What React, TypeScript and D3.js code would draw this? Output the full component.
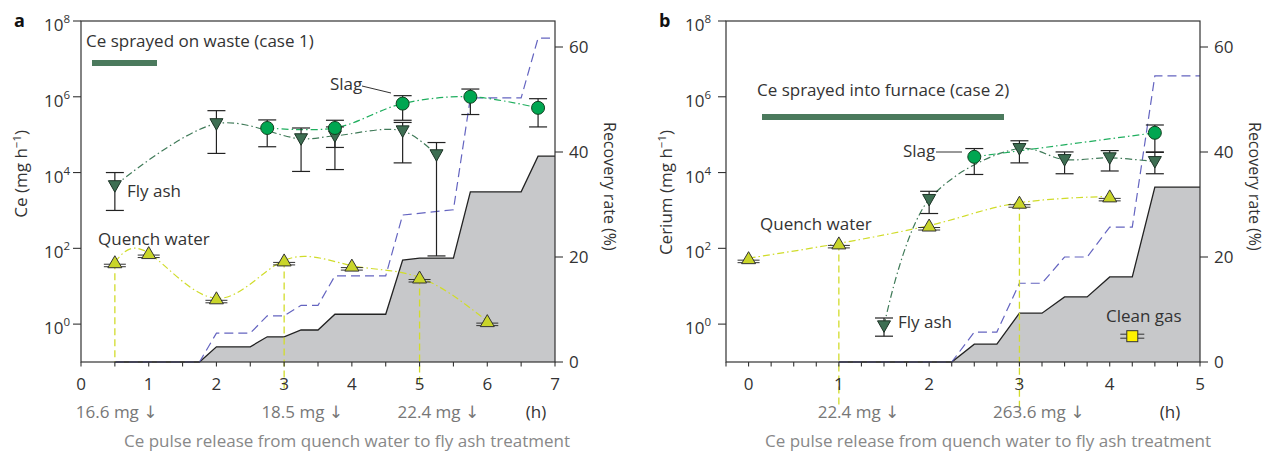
import React from 'react';
import * as d3 from 'd3';

const FONT = "'Open Sans', 'Noto Sans', 'DejaVu Sans', sans-serif";
const INK = '#333';

// ---- panel a : Ce sprayed on waste (case 1) ----
const aFlyX = [0.5, 2, 3.25, 3.75, 4.75, 5.25];
const aFlyY = [4.5e3, 1.95e5, 7.8e4, 9.3e4, 1.26e5, 2.95e4];
const aFlyLo = [1e3, 3.2e4, 1.07e4, 1.2e4, 1.8e4, 63];
const aFlyHi = [1e4, 4.3e5, 1.5e5, 1.6e5, 2.1e5, 6.2e4];

const aSlagX = [2.75, 3.75, 4.75, 5.75, 6.75];
const aSlagY = [1.5e5, 1.5e5, 6.6e5, 1e6, 5.1e5];
const aSlagLo = [4.8e4, 4.6e4, 2.4e5, 3.4e5, 1.6e5];
const aSlagHi = [2.45e5, 2.4e5, 1.07e6, 1.6e6, 8.9e5];

const aQuenchX = [0.5, 1, 2, 3, 4, 5, 6];
const aQuenchY = [43, 75, 4.8, 48, 35, 17, 1.2];

const aTotalX = [0.5, 1.75, 2, 2.5, 2.75, 3, 3.25, 3.5, 3.75, 4.5, 4.75, 5.5, 5.75, 6.5, 6.75, 7];
const aTotalY = [0, 0, 5.5, 5.5, 8.8, 8.8, 10.8, 10.8, 16.4, 16.4, 28, 29, 50.3, 50.3, 61.7, 61.7];
const aAshX = [0.5, 1.75, 2, 2.5, 2.75, 3, 3.25, 3.5, 3.75, 4.5, 4.75, 5, 5.5, 5.75, 6.5, 6.75, 7];
const aAshY = [0, 0, 2.9, 2.9, 4.8, 4.8, 6.1, 6.1, 9.1, 9.1, 19.4, 19.8, 19.8, 32.4, 32.4, 39.2, 39.2];

const aPulseX = [0.5, 3, 5];
const aPulseLabels = ['16.6 mg ↓', '18.5 mg ↓', '22.4 mg ↓'];
const aPulseLabelX = [1.13, 3.87, 5.88];

// ---- panel b : Ce sprayed into furnace (case 2) ----
const bFlyX = [1.5, 2, 3, 3.5, 4, 4.5];
const bFlyY = [0.9, 1950, 4.3e4, 2.2e4, 2.45e4, 1.95e4];
const bFlyLo = [0.48, 830, 1.8e4, 9.3e3, 1.1e4, 9.3e3];
const bFlyHi = [1.45, 3.2e3, 6.9e4, 3.5e4, 3.8e4, 3.4e4];

const bSlagX = [2.5, 4.5];
const bSlagY = [2.6e4, 1.12e5];
const bSlagLo = [8.9e3, 3.5e4];
const bSlagHi = [4.3e4, 1.8e5];

const bQuenchX = [0, 1, 2, 3, 4];
const bQuenchY = [55, 135, 400, 1600, 2350];

const bCleanX = [4.25];
const bCleanY = [0.48];

const bTotalX = [1, 2.25, 2.5, 2.75, 3, 3.25, 3.5, 3.75, 4, 4.25, 4.5, 5];
const bTotalY = [0, 0, 5.7, 5.7, 15, 15, 20, 20, 25.7, 25.7, 54.5, 54.5];
const bAshX = [1, 2.25, 2.5, 2.75, 3, 3.25, 3.5, 3.75, 4, 4.25, 4.5, 5];
const bAshY = [0, 0, 3.4, 3.4, 9.3, 9.3, 12.4, 12.4, 16.2, 16.2, 33.3, 33.3];

const bPulseX = [1, 3];
const bPulseLabels = ['22.4 mg ↓', '263.6 mg ↓'];
const bPulseLabelX = [1.67, 3.72];

const yTickExp = [0, 2, 4, 6, 8];
const rTicks = [0, 20, 40, 60];

const zip = (xs, ys) => xs.map((v, i) => [v, ys[i]]);

const panels = [
  {
    letter: 'a', left: 81, right: 555, xDomain: [0, 7], xTicks: d3.range(0, 8), minor: 0.5,
    yTitle: 'Ce', labelGap: 11,
    fly: { x: aFlyX, y: aFlyY, lo: aFlyLo, hi: aFlyHi },
    slag: { x: aSlagX, y: aSlagY, lo: aSlagLo, hi: aSlagHi },
    quench: { x: aQuenchX, y: aQuenchY }, quenchCurve: d3.curveNatural,
    total: zip(aTotalX, aTotalY), ash: zip(aAshX, aAshY),
    pulseX: aPulseX, pulseDrop: [362, 392, 386],
    pulseLabels: aPulseLabels, pulseLabelX: aPulseLabelX, hX: 536,
    bar: { text: 'Ce sprayed on waste (case 1)', tx: 86, ty: 47, x0: 92, x1: 157, y: 60 },
    notes: [
      { t: 'Fly ash', x: 127, y: 197 },
      { t: 'Quench water', x: 98, y: 245 },
      { t: 'Slag', x: 330, y: 90 },
    ],
    leader: [362, 86, 391, 93],
    clean: null,
    caption: 347,
  },
  {
    letter: 'b', left: 726, right: 1200, xDomain: [-0.25, 5], xTicks: d3.range(0, 6), minor: 0.25,
    yTitle: 'Cerium', labelGap: 15,
    fly: { x: bFlyX, y: bFlyY, lo: bFlyLo, hi: bFlyHi },
    slag: { x: bSlagX, y: bSlagY, lo: bSlagLo, hi: bSlagHi },
    quench: { x: bQuenchX, y: bQuenchY }, quenchCurve: d3.curveMonotoneX,
    total: zip(bTotalX, bTotalY), ash: zip(bAshX, bAshY),
    pulseX: bPulseX, pulseDrop: [408, 410],
    pulseLabels: bPulseLabels, pulseLabelX: bPulseLabelX, hX: 1170,
    bar: { text: 'Ce sprayed into furnace (case 2)', tx: 757, ty: 96, x0: 762, x1: 1004, y: 114 },
    notes: [
      { t: 'Fly ash', x: 898, y: 328 },
      { t: 'Quench water', x: 760, y: 230 },
      { t: 'Slag', x: 903, y: 157 },
      { t: 'Clean gas', x: 1106, y: 322 },
    ],
    leader: [936, 152, 962, 152],
    clean: { x: bCleanX, y: bCleanY },
    caption: 988,
  },
];

const TOP = 21;
const BOTTOM = 362;

function ErrorBars({ s, x, y, color = '#222' }) {
  return (
    <g stroke={color} strokeWidth={1.2}>
      {s.x.map((v, i) => (
        <g key={i}>
          <line x1={x(v)} x2={x(v)} y1={y(s.lo[i])} y2={y(s.hi[i])} />
          <line x1={x(v) - 9} x2={x(v) + 9} y1={y(s.lo[i])} y2={y(s.lo[i])} />
          <line x1={x(v) - 9} x2={x(v) + 9} y1={y(s.hi[i])} y2={y(s.hi[i])} />
        </g>
      ))}
    </g>
  );
}

function Panel({ p }) {
  const x = d3.scaleLinear().domain(p.xDomain).range([p.left, p.right]);
  const y = d3.scaleLog().domain([0.1, 1e8]).range([BOTTOM, TOP]);
  const yR = d3.scaleLinear().domain([0, 65]).range([BOTTOM, 20.75]);

  const logLine = (curve) =>
    d3.line().x((d) => x(d[0])).y((d) => y(d[1])).curve(curve);
  const rLine = d3.line().x((d) => x(d[0])).y((d) => yR(d[1]));
  const ashArea = d3.area().x((d) => x(d[0])).y0(yR(0)).y1((d) => yR(d[1]));

  const minor = d3.range(p.xDomain[0], p.xDomain[1] + 1e-9, p.minor);
  const dashDot = '7,3,1.5,3';

  return (
    <g fontFamily={FONT}>
      {/* recovery: grey area and blue dashed step */}
      <path d={ashArea(p.ash)} fill="#c7c8ca" />
      <path d={rLine(p.ash)} fill="none" stroke="#222" strokeWidth={1.3} />
      <path d={rLine(p.total)} fill="none" stroke="#6464c0" strokeWidth={1.2} strokeDasharray="9,5" />

      {/* pulse markers */}
      {p.pulseX.map((v, i) => (
        <line key={i} x1={x(v)} x2={x(v)}
          y1={y(p.quench.y[p.quench.x.indexOf(v)])} y2={p.pulseDrop[i]}
          stroke="#d2dc2c" strokeWidth={1.3} strokeDasharray="7,4" />
      ))}

      {/* frame */}
      <rect x={p.left} y={TOP} width={p.right - p.left} height={BOTTOM - TOP}
        fill="none" stroke={INK} strokeWidth={1.2} />

      {/* fitted curves */}
      <path d={logLine(p.quenchCurve)(zip(p.quench.x, p.quench.y))} fill="none"
        stroke="#d0dc2a" strokeWidth={1.2} strokeDasharray={dashDot} />
      <path d={logLine(d3.curveCatmullRom)(zip(p.fly.x, p.fly.y))} fill="none"
        stroke="#3f7a58" strokeWidth={1.2} strokeDasharray={dashDot} />
      <path d={logLine(d3.curveCatmullRom)(zip(p.slag.x, p.slag.y))} fill="none"
        stroke="#1fae5e" strokeWidth={1.2} strokeDasharray={dashDot} />

      <ErrorBars s={p.fly} x={x} y={y} />
      <ErrorBars s={p.slag} x={x} y={y} />

      {/* quench water triangles */}
      {p.quench.x.map((v, i) => {
        const cx = x(v), cy = y(p.quench.y[i]);
        return (
          <g key={i}>
            <line x1={cx - 11} x2={cx + 11} y1={cy + 2} y2={cy + 2} stroke="#333" strokeWidth={1} />
            <line x1={cx - 11} x2={cx + 11} y1={cy + 4.5} y2={cy + 4.5} stroke="#333" strokeWidth={1} />
            <path d={`M${cx - 7},${cy + 5.5}L${cx + 7},${cy + 5.5}L${cx},${cy - 6.5}Z`}
              fill="#c9d52a" stroke="#333" strokeWidth={1} />
          </g>
        );
      })}
      {/* fly ash triangles */}
      {p.fly.x.map((v, i) => {
        const cx = x(v), cy = y(p.fly.y[i]);
        return (
          <path key={i} d={`M${cx - 6.5},${cy - 5}L${cx + 6.5},${cy - 5}L${cx},${cy + 6.5}Z`}
            fill="#3d6e52" stroke="#1d3326" strokeWidth={1} />
        );
      })}
      {/* slag circles */}
      {p.slag.x.map((v, i) => (
        <circle key={i} cx={x(v)} cy={y(p.slag.y[i])} r={6.5}
          fill="#00a651" stroke="#12401f" strokeWidth={1} />
      ))}
      {/* clean gas */}
      {p.clean && p.clean.x.map((v, i) => {
        const cx = x(v), cy = y(p.clean.y[i]);
        return (
          <g key={i} stroke="#333" strokeWidth={1}>
            <line x1={cx - 12} x2={cx + 12} y1={cy - 2} y2={cy - 2} />
            <line x1={cx - 12} x2={cx + 12} y1={cy + 2} y2={cy + 2} />
            <rect x={cx - 5.5} y={cy - 5.5} width={11} height={11} fill="#fff200" />
          </g>
        );
      })}

      {/* x axis ticks */}
      {minor.map((v, i) => (
        <line key={i} x1={x(v)} x2={x(v)} y1={BOTTOM} y2={BOTTOM + 4.5} stroke={INK} strokeWidth={1.1} />
      ))}
      {p.xTicks.map((v) => (
        <text key={v} x={x(v)} y={390} textAnchor="middle" fontSize={17} fill={INK}>{v}</text>
      ))}

      {/* left log axis */}
      {yTickExp.map((e) => (
        <g key={e}>
          <line x1={p.left - 8} x2={p.left} y1={y(10 ** e)} y2={y(10 ** e)} stroke={INK} strokeWidth={1.1} />
          <text x={p.left - p.labelGap} y={y(10 ** e) + 10} textAnchor="end" fontSize={17} fill={INK}>
            10<tspan dy={-8} fontSize={11.5}>{e}</tspan>
          </text>
        </g>
      ))}
      <text transform={`translate(${p.left - 54},130) rotate(-90)`} textAnchor="end" fontSize={17} fill={INK}>
        {p.yTitle} (mg h<tspan dy={-6} fontSize={11.5}>−1</tspan><tspan dy={6}>)</tspan>
      </text>

      {/* right recovery axis */}
      {rTicks.map((v) => (
        <g key={v}>
          <line x1={p.right} x2={p.right + 8} y1={yR(v)} y2={yR(v)} stroke={INK} strokeWidth={1.1} />
          <text x={p.right + 14} y={yR(v) + 6} fontSize={17} fill={INK}>{v}</text>
        </g>
      ))}
      <text transform={`translate(${p.right + 49},122) rotate(90)`} fontSize={16} fill={INK}>
        Recovery rate (%)
      </text>

      {/* annotations */}
      <text x={p.left - 67} y={27} fontSize={18} fontWeight="bold" fill="#111">{p.letter}</text>
      <text x={p.bar.tx} y={p.bar.ty} fontSize={17} fill={INK}>{p.bar.text}</text>
      <rect x={p.bar.x0} y={p.bar.y} width={p.bar.x1 - p.bar.x0} height={6} fill="#4b7a5d" />
      {p.notes.map((n, i) => (
        <text key={i} x={n.x} y={n.y} fontSize={17} fill={INK}>{n.t}</text>
      ))}
      <line x1={p.leader[0]} y1={p.leader[1]} x2={p.leader[2]} y2={p.leader[3]} stroke={INK} strokeWidth={1} />

      {p.pulseLabels.map((t, i) => (
        <text key={i} x={x(p.pulseLabelX[i])} y={418} textAnchor="end" fontSize={17} fill="#777">{t}</text>
      ))}
      <text x={p.hX} y={418} textAnchor="middle" fontSize={17} fill={INK}>(h)</text>
      <text x={p.caption} y={447} textAnchor="middle" fontSize={17} fill="#888">
        Ce pulse release from quench water to fly ash treatment
      </text>
    </g>
  );
}

export default function App() {
  return (
    <svg width={1266} height={453} viewBox="0 0 1266 453"
      style={{ position: 'absolute', left: 0, top: 0, background: '#fff' }}>
      {panels.map((p) => (
        <Panel key={p.letter} p={p} />
      ))}
    </svg>
  );
}
